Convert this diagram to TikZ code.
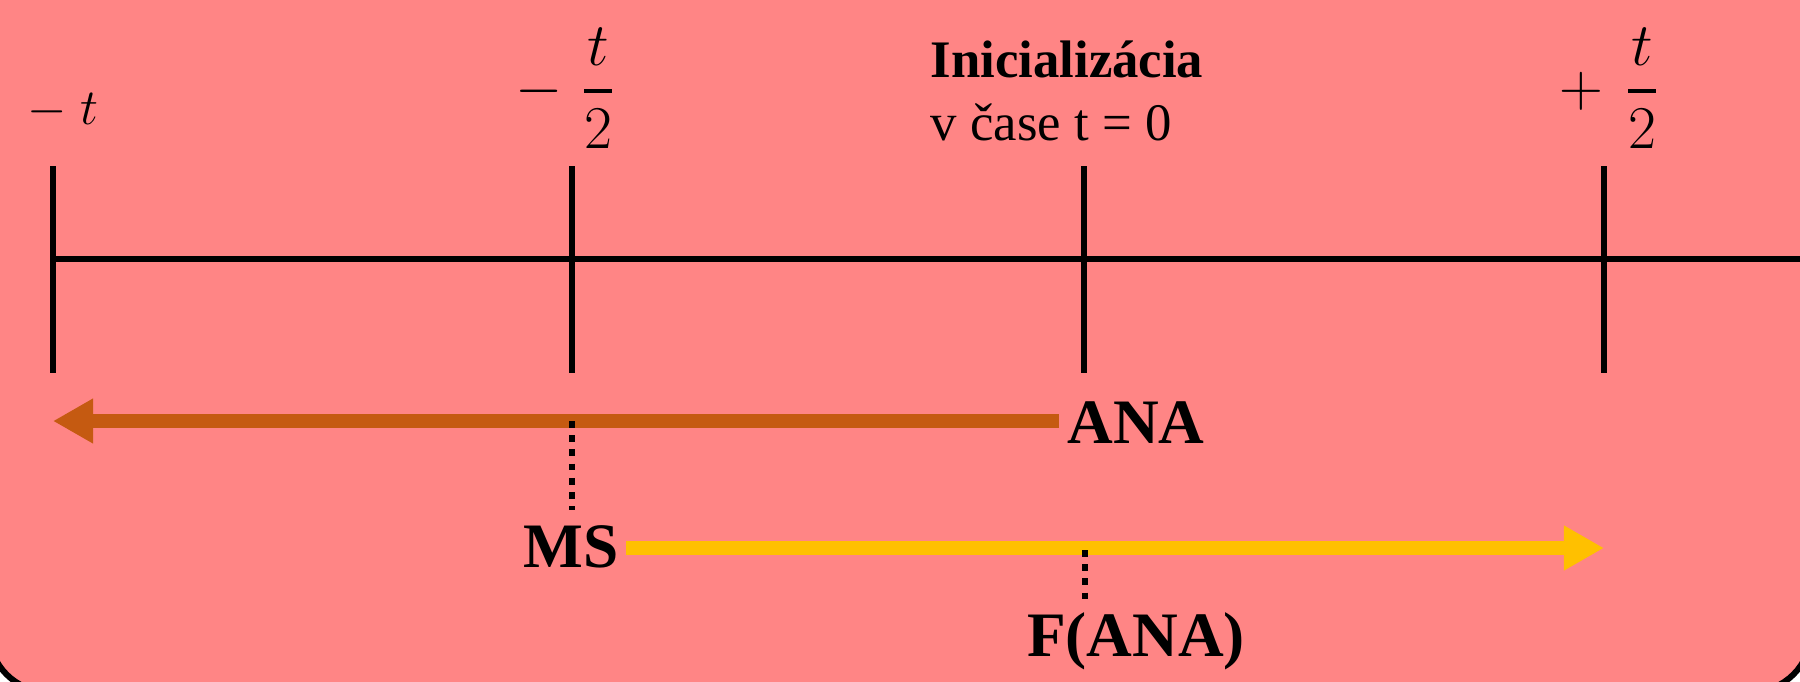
\documentclass[tikz,border=0pt]{standalone}
\usepackage{fontspec}
\setmainfont{Liberation Serif}
\usetikzlibrary{arrows.meta}
\definecolor{bgsalmon}{HTML}{FF8585}
\definecolor{arrorange}{HTML}{C55A11}
\definecolor{arryellow}{HTML}{FFC000}
\begin{document}
\begin{tikzpicture}[x=0.01cm,y=-0.01cm,
  axisline/.style={line width=0.055cm, black},
  tickline/.style={line width=0.058cm, black},
  dotline/.style={line width=0.065cm, black, dash pattern=on 0.068cm off 0.074cm},
  orangearrow/.style={line width=0.14cm, arrorange, -{Triangle[length=0.40cm,width=0.42cm]}},
  yellowarrow/.style={line width=0.14cm, arryellow, -{Triangle[length=0.40cm,width=0.42cm]}},
  biglbl/.style={inner sep=0pt, font=\fontsize{18}{21}\selectfont\bfseries},
  toplbl/.style={inner sep=0pt, font=\fontsize{15}{18}\selectfont},
  mathlbl/.style={inner sep=0pt, font=\fontsize{15}{18}\selectfont},
  fraclbl/.style={inner sep=0pt, font=\fontsize{16}{19}\selectfont},
]
\useasboundingbox (0,0) rectangle (1800,681);
\begin{scope}
  \clip (0,0) rectangle (1800,681);
  \draw[line width=0.06cm, fill=bgsalmon, rounded corners=0.6cm] (-11,-100) rectangle (1811,692);
\end{scope}

% axis and ticks
\coordinate (axL) at (53,259);
\coordinate (axR) at (1800,259);
\draw[axisline] (axL) -- (axR);
\foreach \i/\x in {1/53,2/572,3/1084,4/1604}{
  \coordinate (tick\i top) at (\x,166);
  \coordinate (tick\i bot) at (\x,373);
  \draw[tickline] (tick\i top) -- (tick\i bot);
}

% top labels
\node[mathlbl, anchor=base] (lblmt) at (63,124) {$-\;t$};
\node[fraclbl, anchor=center] (lblmhalf) at (566,88)
  {$\displaystyle -\;{\rule[-0.12em]{0pt}{0pt}t\above1.1pt\rule{0pt}{0.7em}2}$};
\node[toplbl, anchor=base west] (init) at (930,77) {\bfseries Inicializácia};
\node[toplbl, anchor=base west] (cas) at (930,140) {v čase t = 0};
\node[fraclbl, anchor=center] (lblphalf) at (1610,88)
  {$\displaystyle +\mskip6mu{\rule[-0.12em]{0pt}{0pt}t\above1.1pt\rule{0pt}{0.7em}2}$};

% labels
\node[biglbl, anchor=base] (ANA) at (1136,443) {ANA};
\node[biglbl, anchor=base] (MS) at (571,567) {MS};
\node[biglbl, anchor=base] (FANA) at (1136,656) {F(ANA)};

% arrows
\coordinate (oStart) at (1059,421);
\coordinate (oEnd) at (53,421);
\draw[orangearrow] (oStart) -- (oEnd);
\coordinate (yStart) at (626,548);
\coordinate (yEnd) at (1604,548);
\draw[yellowarrow] (yStart) -- (yEnd);

% dotted connectors
\coordinate (d1top) at (572,421);
\coordinate (d1bot) at (572,510);
\draw[dotline] (d1top) -- (d1bot);
\coordinate (d2top) at (1085,550);
\coordinate (d2bot) at (1085,600);
\draw[dotline] (d2top) -- (d2bot);
\end{tikzpicture}
\end{document}
